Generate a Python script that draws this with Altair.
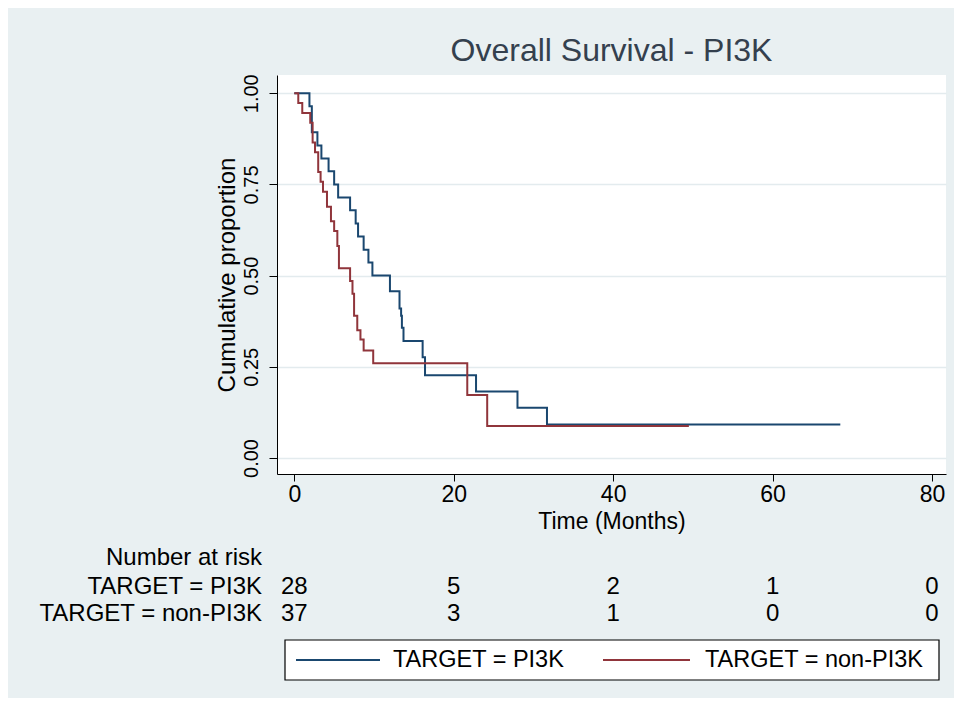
import altair as alt
import pandas as pd

# ---- data ----
groups = ["TARGET = PI3K", "TARGET = non-PI3K"]
colors = ["#1a476f", "#90353b"]

pi3k_time = [0, 1.9, 2.2, 2.9, 3.4, 4.3, 5.0, 5.5, 7.0, 7.7, 8.0, 8.7, 9.3, 9.8,
             12.0, 13.2, 13.4, 13.5, 13.7, 16.1, 16.4, 22.8, 28.0, 31.7, 68.5]
pi3k_surv = [1.0, 0.964, 0.893, 0.857, 0.821, 0.786, 0.75, 0.714, 0.679, 0.643, 0.607,
             0.571, 0.536, 0.50, 0.457, 0.41, 0.39, 0.357, 0.321, 0.276, 0.227, 0.182,
             0.138, 0.092, 0.092]

non_time = [0, 0.5, 1.0, 2.0, 2.3, 2.6, 3.0, 3.3, 3.6, 4.1, 4.6, 5.0, 5.4, 5.6, 7.0,
            7.3, 7.5, 7.9, 8.3, 8.7, 9.9, 21.7, 24.2, 49.5]
non_surv = [1.0, 0.973, 0.946, 0.919, 0.865, 0.838, 0.784, 0.757, 0.730, 0.689, 0.649,
            0.622, 0.581, 0.52, 0.485, 0.45, 0.39, 0.35, 0.325, 0.295, 0.26, 0.173,
            0.088, 0.088]

risk_times = [0, 20, 40, 60, 80]
risk_pi3k = [28, 5, 2, 1, 0]
risk_non = [37, 3, 1, 0, 0]

x_ticks = [0, 20, 40, 60, 80]
y_ticks = [0, 0.25, 0.5, 0.75, 1.0]

title_text = "Overall Survival - PI3K"
x_title = "Time (Months)"
y_title = "Cumulative proportion"
risk_header = "Number at risk"

# ---- tables ----
curve = pd.DataFrame({
    "time": pi3k_time + non_time,
    "surv": pi3k_surv + non_surv,
    "group": [groups[0]] * len(pi3k_time) + [groups[1]] * len(non_time),
})
risk = pd.DataFrame({
    "time": risk_times + risk_times,
    "n": risk_pi3k + risk_non,
    "group": [groups[0]] * len(risk_times) + [groups[1]] * len(risk_times),
})
one = pd.DataFrame({"k": [0]})

FONT = "Liberation Sans"
BG = "#e9f0f2"

xs = alt.Scale(domain=[-2.17, 81.76], nice=False, zero=False)
ys = alt.Scale(domain=[-0.0439, 1.050], nice=False, zero=False)

x_axis = alt.Axis(values=x_ticks, title=x_title, grid=False, domainColor="black",
                  tickColor="black", tickSize=7, labelFontSize=23, titleFontSize=23,
                  labelPadding=2, titlePadding=4, labelColor="black", titleColor="black",
                  titleFontWeight="normal", labelFont=FONT, titleFont=FONT,
                  labelFlush=False, labelOverlap=False, format="d")
y_axis = alt.Axis(values=y_ticks, format=".2f", title=y_title, grid=True,
                  gridColor="#e3ebee", gridWidth=1.5, domainColor="black",
                  tickColor="black", tickSize=8, labelAngle=270, labelAlign="center",
                  labelBaseline="bottom", labelPadding=8, labelFontSize=20,
                  titleFontSize=24, titlePadding=2, labelColor="black",
                  titleColor="black", titleFontWeight="normal", labelFont=FONT,
                  titleFont=FONT, labelOverlap=False, labelFlush=False)

x_enc = alt.X("time:Q", scale=xs, axis=x_axis)

lines = alt.Chart(curve).mark_line(interpolate="step-after", strokeWidth=2).encode(
    x=x_enc,
    y=alt.Y("surv:Q", scale=ys, axis=y_axis),
    color=alt.Color("group:N", scale=alt.Scale(domain=groups, range=colors), legend=None),
    detail="group:N",
)

txt = dict(font=FONT, fontSize=24, color="black", baseline="middle")
legtxt = dict(font=FONT, fontSize=23.5, color="black", baseline="middle")

risk_rows = []
for g, ypx in zip(groups, [512, 539]):
    risk_rows.append(
        alt.Chart(risk).transform_filter(alt.datum.group == g)
        .mark_text(align="center", **txt)
        .encode(x=x_enc, y=alt.value(ypx), text="n:Q")
    )

row_labels = []
for label, ypx in zip([risk_header] + groups, [483, 512, 539]):
    row_labels.append(
        alt.Chart(one).mark_text(align="right", **txt)
        .encode(x=alt.value(-15), y=alt.value(ypx), text=alt.value(label))
    )

# legend box
box = alt.Chart(one).mark_rect(fill="white", stroke="black", strokeWidth=1.2).encode(
    x=alt.value(8), x2=alt.value(662), y=alt.value(565), y2=alt.value(605))
leg = []
for g, c, (x0, x1, xt) in zip(groups, colors, [(19, 103, 116), (326, 413, 428)]):
    leg.append(alt.Chart(one).mark_rule(color=c, strokeWidth=2).encode(
        x=alt.value(x0), x2=alt.value(x1), y=alt.value(585)))
    leg.append(alt.Chart(one).mark_text(align="left", **legtxt).encode(
        x=alt.value(xt), y=alt.value(585), text=alt.value(g)))

chart = alt.layer(lines, *risk_rows, *row_labels, box, *leg).properties(
    width=669, height=399,
    title=alt.TitleParams(title_text, fontSize=32, font=FONT, fontWeight="normal",
                          color="#34404e", anchor="middle", offset=6),
    padding={"left": 269, "top": 67, "right": 8, "bottom": 224},
    autosize=alt.AutoSizeParams(type="none"),
    background=BG,
).configure_view(stroke=None, fill="white")

chart.save("out.html", embed_options={"renderer": "svg", "actions": False})
